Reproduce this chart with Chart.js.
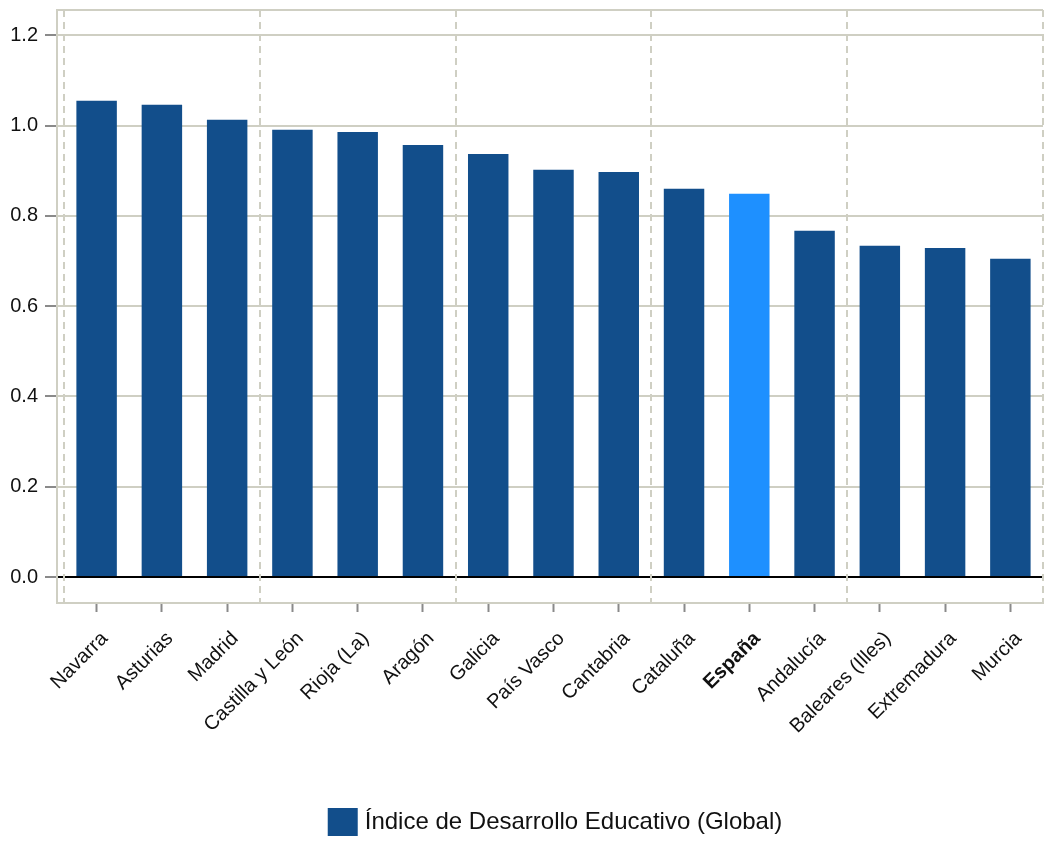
<!DOCTYPE html>
<html>
<head>
<meta charset="utf-8">
<script src="https://cdn.jsdelivr.net/npm/chart.js@4.4.1/dist/chart.umd.min.js"></script>
<style>
  html, body { margin: 0; padding: 0; background: #fff; }
  #wrap { width: 1044px; height: 842px; }
</style>
</head>
<body>
<div id="wrap"><canvas id="myChart" width="1044" height="842"></canvas></div>
<script>
// datos
var regiones = ['Navarra', 'Asturias', 'Madrid', 'Castilla y León', 'Rioja (La)', 'Aragón', 'Galicia',
  'País Vasco', 'Cantabria', 'Cataluña', 'España', 'Andalucía', 'Baleares (Illes)', 'Extremadura', 'Murcia'];
var indice = [1.055, 1.046, 1.013, 0.991, 0.986, 0.957, 0.937, 0.902, 0.897, 0.860, 0.849, 0.767, 0.734, 0.729, 0.705];
var yTicks = [0, 0.2, 0.4, 0.6, 0.8, 1.0, 1.2];
var serieNombre = 'Índice de Desarrollo Educativo (Global)';
var destacado = 'España';

var azul = '#124e8b';
var azulClaro = '#1e90ff';
var gris = '#cfcfc3';
var fuente = "'Liberation Sans', Arial, sans-serif";

var puntos = indice.map(function (v, i) { return { x: i, y: v }; });

// marco, lineas discontinuas cada 3 regiones y leyenda
var marco = {
  id: 'marco',
  beforeDatasetsDraw: function (chart) {
    var c = chart.ctx, a = chart.chartArea, x = chart.scales.x;
    c.save();
    c.strokeStyle = gris;
    c.lineWidth = 2;
    c.beginPath();
    c.moveTo(a.left, a.top); c.lineTo(a.right, a.top);
    c.stroke();
    c.setLineDash([7, 5]);
    for (var i = 0; i <= regiones.length; i += 3) {
      var px = Math.round(x.getPixelForValue(i - 0.5));
      c.beginPath();
      c.moveTo(px, a.top); c.lineTo(px, a.bottom);
      c.stroke();
    }
    c.restore();
  },
  afterDraw: function (chart) {
    var c = chart.ctx, a = chart.chartArea;
    c.save();
    c.font = '24px ' + fuente;
    var w = c.measureText(serieNombre).width;
    var total = 30 + 7 + w;
    var x0 = (a.left + a.right) / 2 + 5 - total / 2;
    var yc = 822;
    c.fillStyle = azul;
    c.fillRect(x0, yc - 14, 30, 28);
    c.fillStyle = '#111';
    c.textBaseline = 'middle';
    c.fillText(serieNombre, x0 + 37, yc);
    c.restore();
  }
};

var ctx = document.getElementById('myChart').getContext('2d');
var myChart = new Chart(ctx, {
  type: 'bar',
  data: {
    datasets: [{
      label: serieNombre,
      data: puntos,
      backgroundColor: regiones.map(function (r) { return r === destacado ? azulClaro : azul; }),
      borderWidth: 0,
      categoryPercentage: 1,
      barPercentage: 0.62
    }]
  },
  options: {
    responsive: false,
    animation: false,
    layout: { padding: { top: 10, right: 1, left: 0, bottom: 0 } },
    plugins: {
      legend: { display: false },
      tooltip: { enabled: false }
    },
    scales: {
      x: {
        type: 'linear',
        offset: false,
        min: -0.607,
        max: 14.5,
        afterBuildTicks: function (axis) {
          axis.ticks = axis.ticks.filter(function (t) { return t.value >= 0 && t.value < regiones.length && Number.isInteger(t.value); });
        },
        afterFit: function (axis) {
          axis.height = 239;
          axis.paddingLeft = 0; axis.paddingRight = 0;
        },
        grid: { offset: false, drawOnChartArea: false, drawTicks: true, tickLength: 9, tickColor: '#8a8a8a', tickWidth: 2 },
        border: { display: true, color: gris, width: 2 },
        ticks: {
          stepSize: 1,
          includeBounds: false,
          autoSkip: false,
          minRotation: 45,
          maxRotation: 45,
          padding: 15,
          labelOffset: 8,
          color: '#111',
          font: function (c) {
            var bold = c.tick && regiones[c.tick.value] === destacado;
            return { family: fuente, size: 20, weight: bold ? 'bold' : 'normal' };
          },
          callback: function (v) { return regiones[v]; }
        }
      },
      y: {
        min: -0.0576,
        max: 1.256,
        afterBuildTicks: function (axis) {
          axis.ticks = yTicks.map(function (v) { return { value: v }; });
        },
        afterFit: function (axis) {
          axis.width = 57;
          axis.paddingTop = 0; axis.paddingBottom = 0;
        },
        grid: {
          color: function (c) { return c.tick && c.tick.value === 0 ? '#000' : gris; },
          lineWidth: 2,
          tickLength: 12,
          tickColor: '#8a8a8a',
          tickWidth: 2
        },
        border: { display: true, color: gris, width: 2 },
        ticks: {
          padding: 7,
          color: '#111',
          font: { family: fuente, size: 20 },
          callback: function (v) { return v.toFixed(1); }
        }
      }
    }
  },
  plugins: [marco]
});
</script>
</body>
</html>
